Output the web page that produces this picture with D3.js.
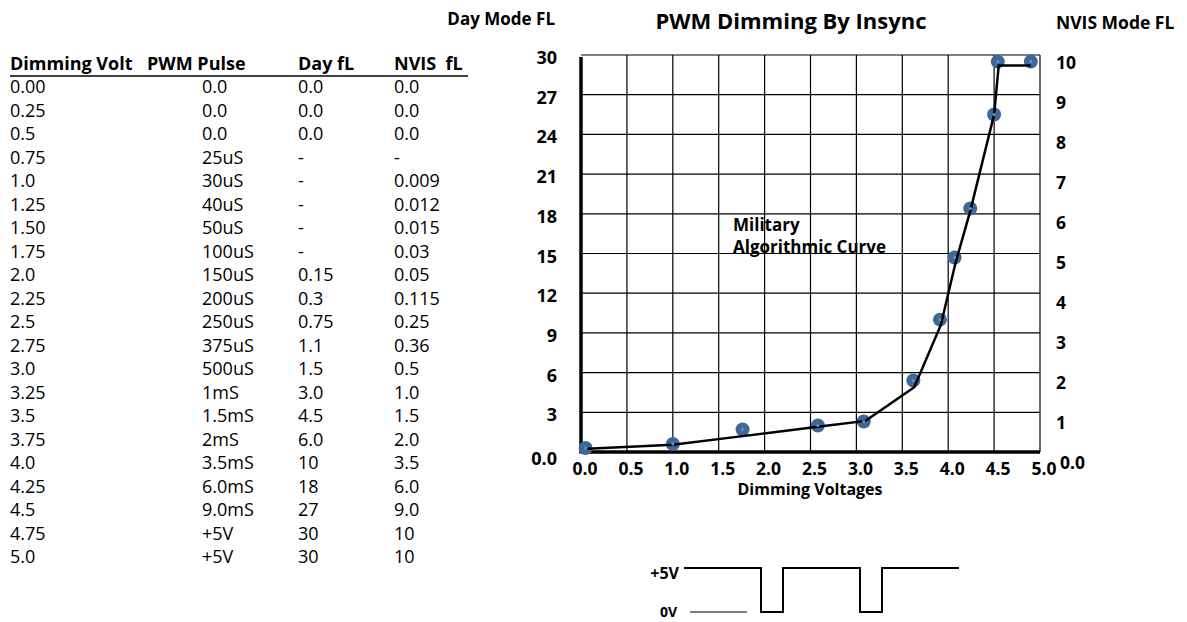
<!DOCTYPE html>
<html>
<head>
<meta charset="utf-8">
<script src="https://cdn.jsdelivr.net/npm/d3@7"></script>
<style>
body { margin: 0; background: #fff; }
svg text { font-family: "Open Sans", sans-serif; fill: #000; }
</style>
</head>
<body>
<script>
// table columns
var dimVolts = ["0.00","0.25","0.5","0.75","1.0","1.25","1.50","1.75","2.0","2.25","2.5","2.75","3.0","3.25","3.5","3.75","4.0","4.25","4.5","4.75","5.0"];
var pwmPulse = ["0.0","0.0","0.0","25uS","30uS","40uS","50uS","100uS","150uS","200uS","250uS","375uS","500uS","1mS","1.5mS","2mS","3.5mS","6.0mS","9.0mS","+5V","+5V"];
var dayFL = ["0.0","0.0","0.0","-","-","-","-","-","0.15","0.3","0.75","1.1","1.5","3.0","4.5","6.0","10","18","27","30","30"];
var nvisFL = ["0.0","0.0","0.0","-","0.009","0.012","0.015","0.03","0.05","0.115","0.25","0.36","0.5","1.0","1.5","2.0","3.5","6.0","9.0","10","10"];
var headers = ["Dimming Volt","PWM Pulse","Day fL","NVIS  fL"];

// measured points (volts, day fL)
var ptVolts = [0.05, 1.0, 1.76, 2.58, 3.08, 3.62, 3.91, 4.07, 4.24, 4.5, 4.54, 4.9];
var ptDay = [0.3, 0.6, 1.7, 2.0, 2.3, 5.4, 10.0, 14.7, 18.4, 25.5, 29.5, 29.5];

// military curve
var curveVolts = [0.07, 1.0, 1.76, 2.58, 3.1, 3.63, 3.92, 4.08, 4.24, 4.5, 4.55, 4.9];
var curveDay = [0.25, 0.55, 1.2, 1.9, 2.35, 4.9, 9.6, 14.3, 18.2, 25.5, 29.2, 29.2];

// axis ticks
var xTicks = [0, 0.5, 1, 1.5, 2, 2.5, 3, 3.5, 4, 4.5, 5];
var dayTicks = [0, 3, 6, 9, 12, 15, 18, 21, 24, 27, 30];
var nvisTicks = [0, 1, 2, 3, 4, 5, 6, 7, 8, 9, 10];

// pwm pulse sketch (time, level)
var pulseT = [0, 3.5, 3.5, 4.5, 4.5, 8, 8, 9, 9, 12.5];
var pulseV = [5, 5, 0, 0, 5, 5, 0, 0, 5, 5];

window.onload = function(){
    var w = 1187, h = 622;

    var svg = d3.select("body")
        .append("svg")
        .attr("width", w)
        .attr("height", h);

    // ---- table ----
    var colX = [10, 147, 298, 394];
    var valX = [10, 202, 298, 394];
    var rowY = d3.scaleLinear().domain([0, 20]).range([93, 563]);

    svg.selectAll(".hdr")
        .data(headers)
        .enter()
        .append("text")
        .attr("class", "hdr")
        .attr("x", function(d, i){ return colX[i]; })
        .attr("y", 70)
        .style("font-size", "18px")
        .style("font-weight", "bold")
        .style("white-space", "pre")
        .text(function(d){ return d; });

    svg.append("line")
        .attr("x1", 10).attr("x2", 468)
        .attr("y1", 76).attr("y2", 76)
        .style("stroke", "#000")
        .style("stroke-width", 1.6);

    var cols = [dimVolts, pwmPulse, dayFL, nvisFL];
    cols.forEach(function(col, c){
        svg.selectAll(".col" + c)
            .data(col)
            .enter()
            .append("text")
            .attr("class", "col" + c)
            .attr("x", valX[c])
            .attr("y", function(d, i){ return rowY(i); })
            .style("font-size", "18px")
            .text(function(d){ return d; });
    });

    // ---- chart ----
    var x = d3.scaleLinear().domain([0, 5]).range([581, 1040]);
    var y = d3.scaleLinear().domain([0, 30]).range([452, 55]);
    var yR = d3.scaleLinear().domain([0, 10]).range([462, 62]);

    var grid = svg.append("g");

    grid.selectAll(".vgrid")
        .data(xTicks.slice(1))
        .enter()
        .append("line")
        .attr("x1", function(d){ return x(d); })
        .attr("x2", function(d){ return x(d); })
        .attr("y1", y(30))
        .attr("y2", y(0))
        .style("stroke", "#000")
        .style("stroke-width", 1.2);

    grid.selectAll(".hgrid")
        .data(dayTicks.slice(1))
        .enter()
        .append("line")
        .attr("x1", x(0))
        .attr("x2", x(5))
        .attr("y1", function(d){ return y(d); })
        .attr("y2", function(d){ return y(d); })
        .style("stroke", "#000")
        .style("stroke-width", 1.2);

    // thick axes
    svg.append("line")
        .attr("x1", x(0)).attr("x2", x(0))
        .attr("y1", y(30) + 2).attr("y2", y(0) + 1.5)
        .style("stroke", "#000").style("stroke-width", 3.5);
    svg.append("line")
        .attr("x1", x(0)).attr("x2", x(5))
        .attr("y1", y(0)).attr("y2", y(0))
        .style("stroke", "#000").style("stroke-width", 3.5);

    // left axis labels
    svg.selectAll(".ylab")
        .data(dayTicks)
        .enter()
        .append("text")
        .attr("class", "ylab")
        .attr("text-anchor", "end")
        .attr("x", 557)
        .attr("y", function(d){ return d == 0 ? y(d) + 13 : y(d) + 9; })
        .style("font-size", "18px")
        .style("font-weight", "bold")
        .text(function(d){ return d == 0 ? "0.0" : d; });

    // right axis labels
    svg.selectAll(".rlab")
        .data(nvisTicks)
        .enter()
        .append("text")
        .attr("class", "rlab")
        .attr("x", function(d){ return d == 0 ? 1060 : 1056; })
        .attr("y", function(d){ return yR(d) + 6.5; })
        .style("font-size", "17.5px")
        .style("font-weight", "bold")
        .text(function(d){ return d == 0 ? "0.0" : d; });

    // x labels
    svg.selectAll(".xlab")
        .data(xTicks)
        .enter()
        .append("text")
        .attr("class", "xlab")
        .attr("text-anchor", "middle")
        .attr("x", function(d){ return x(d) + 4; })
        .attr("y", 475)
        .style("font-size", "17.5px")
        .style("font-weight", "bold")
        .text(function(d){ return d3.format(".1f")(d); });

    svg.append("text")
        .attr("text-anchor", "middle")
        .attr("x", 810)
        .attr("y", 495)
        .style("font-size", "16px")
        .style("font-weight", "bold")
        .text("Dimming Voltages");

    // titles
    svg.append("text")
        .attr("text-anchor", "middle")
        .attr("x", 791)
        .attr("y", 29)
        .style("font-size", "22px")
        .style("font-weight", "bold")
        .text("PWM Dimming By Insync");

    svg.append("text")
        .attr("text-anchor", "end")
        .attr("x", 555)
        .attr("y", 25)
        .style("font-size", "17px")
        .style("font-weight", "bold")
        .text("Day Mode FL");

    svg.append("text")
        .attr("x", 1056)
        .attr("y", 29)
        .style("font-size", "17.5px")
        .style("font-weight", "bold")
        .text("NVIS Mode FL");

    // annotation
    svg.append("text")
        .attr("x", 733)
        .attr("y", 231)
        .style("font-size", "17px")
        .style("font-weight", "bold")
        .text("Military");
    svg.append("text")
        .attr("x", 733)
        .attr("y", 253)
        .style("font-size", "17px")
        .style("font-weight", "bold")
        .text("Algorithmic Curve");

    // curve
    var curve = d3.range(curveVolts.length).map(function(i){
        return [curveVolts[i], curveDay[i]];
    });
    var line = d3.line()
        .x(function(d){ return x(d[0]); })
        .y(function(d){ return y(d[1]); });

    // points
    var pts = d3.range(ptVolts.length).map(function(i){
        return [ptVolts[i], ptDay[i]];
    });
    svg.selectAll(".pt")
        .data(pts)
        .enter()
        .append("circle")
        .attr("class", "pt")
        .attr("cx", function(d){ return x(d[0]); })
        .attr("cy", function(d){ return y(d[1]); })
        .attr("r", 7)
        .style("fill", "#3f6899");

    svg.append("path")
        .datum(curve)
        .attr("d", line)
        .style("fill", "none")
        .style("stroke", "#000")
        .style("stroke-width", 2.5);

    svg.selectAll(".ptc")
        .data(pts)
        .enter()
        .append("circle")
        .attr("class", "ptc")
        .attr("cx", function(d){ return x(d[0]); })
        .attr("cy", function(d){ return y(d[1]); })
        .attr("r", 1.5)
        .style("fill", "#6d93c2");

    // ---- pulse sketch ----
    var px = d3.scaleLinear().domain([0, 12.5]).range([684, 959]);
    var py = d3.scaleLinear().domain([0, 5]).range([612, 568]);
    var pulse = d3.range(pulseT.length).map(function(i){
        return [pulseT[i], pulseV[i]];
    });
    svg.append("path")
        .datum(pulse)
        .attr("d", d3.line()
            .x(function(d){ return px(d[0]); })
            .y(function(d){ return py(d[1]); }))
        .style("fill", "none")
        .style("stroke", "#000")
        .style("stroke-width", 2);

    svg.append("line")
        .attr("x1", 690).attr("x2", 747)
        .attr("y1", py(0)).attr("y2", py(0))
        .style("stroke", "#000").style("stroke-width", 1);

    svg.append("text")
        .attr("text-anchor", "end")
        .attr("x", 679)
        .attr("y", 579)
        .style("font-size", "16px")
        .style("font-weight", "bold")
        .text("+5V");

    svg.append("text")
        .attr("text-anchor", "end")
        .attr("x", 677)
        .attr("y", 617)
        .style("font-size", "14px")
        .style("font-weight", "bold")
        .text("0V");
};
</script>
</body>
</html>
